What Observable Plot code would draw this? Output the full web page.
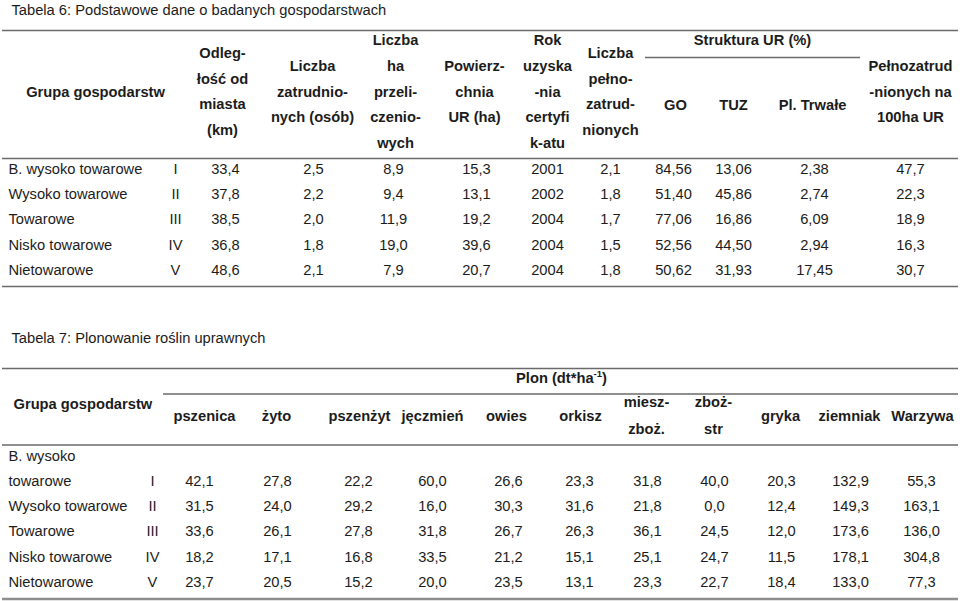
<!DOCTYPE html>
<html><head><meta charset="utf-8">
<script src="https://cdn.jsdelivr.net/npm/d3@7"></script>
<script src="https://cdn.jsdelivr.net/npm/@observablehq/plot@0.6"></script>
<style>body{margin:0;background:#fff} svg{display:block}</style>
</head><body><div id="chart"></div>
<script>
// ================= DATA: Tabela 6 =================
const title6 = "Tabela 6: Podstawowe dane o badanych gospodarstwach";
const groupHeader = "Grupa gospodarstw";
const groups6 = ["B. wysoko towarowe", "Wysoko towarowe", "Towarowe", "Nisko towarowe", "Nietowarowe"];
const groupNumbers = ["I", "II", "III", "IV", "V"];
const headers6 = [
  "Odleg-\nłość od\nmiasta\n(km)",
  "Liczba\nzatrudnio-\nnych (osób)",
  "Liczba\nha\nprzeli-\nczenio-\nwych",
  "Powierz-\nchnia\nUR (ha)",
  "Rok\nuzyska\n-nia\ncertyfi\nk-atu",
  "Liczba\npełno-\nzatrud-\nnionych"
];
const structureHeader = "Struktura UR (%)";
const structureCols = ["GO", "TUZ", "Pl. Trwałe"];
const lastHeader6 = "Pełnozatrud\n-nionych na\n100ha UR";
const distanceKm   = [33.4, 37.8, 38.5, 36.8, 48.6];
const employees    = [2.5, 2.2, 2.0, 1.8, 2.1];
const haConverted  = [8.9, 9.4, 11.9, 19.0, 7.9];
const areaUR       = [15.3, 13.1, 19.2, 39.6, 20.7];
const certYear     = [2001, 2002, 2004, 2004, 2004];
const fullTime     = [2.1, 1.8, 1.7, 1.5, 1.8];
const shareGO      = [84.56, 51.40, 77.06, 52.56, 50.62];
const shareTUZ     = [13.06, 45.86, 16.86, 44.50, 31.93];
const sharePl      = [2.38, 2.74, 6.09, 2.94, 17.45];
const fullTimePer100 = [47.7, 22.3, 18.9, 16.3, 30.7];
const cols6 = [
  [distanceKm, 1], [employees, 1], [haConverted, 1], [areaUR, 1], [certYear, 0],
  [fullTime, 1], [shareGO, 2], [shareTUZ, 2], [sharePl, 2], [fullTimePer100, 1]
];

// ================= DATA: Tabela 7 =================
const title7 = "Tabela 7: Plonowanie roślin uprawnych";
const yieldHeader = "Plon (dt*ha-1)";
const groups7 = ["B. wysoko\ntowarowe", "Wysoko towarowe", "Towarowe", "Nisko towarowe", "Nietowarowe"];
const crops = ["pszenica", "żyto", "pszenżyt", "jęczmień", "owies", "orkisz", "miesz-\nzboż.", "zboż-\nstr", "gryka", "ziemniak", "Warzywa"];
const pszenica = [42.1, 31.5, 33.6, 18.2, 23.7];
const zyto     = [27.8, 24.0, 26.1, 17.1, 20.5];
const pszenzyt = [22.2, 29.2, 27.8, 16.8, 15.2];
const jeczmien = [60.0, 16.0, 31.8, 33.5, 20.0];
const owies    = [26.6, 30.3, 26.7, 21.2, 23.5];
const orkisz   = [23.3, 31.6, 26.3, 15.1, 13.1];
const mieszZboz = [31.8, 21.8, 36.1, 25.1, 23.3];
const zbozStr  = [40.0, 0.0, 24.5, 24.7, 22.7];
const gryka    = [20.3, 12.4, 12.0, 11.5, 18.4];
const ziemniak = [132.9, 149.3, 173.6, 178.1, 133.0];
const warzywa  = [55.3, 163.1, 136.0, 304.8, 77.3];
const cols7 = [pszenica, zyto, pszenzyt, jeczmien, owies, orkisz, mieszZboz, zbozStr, gryka, ziemniak, warzywa];

// ================= LAYOUT (table geometry) =================
const FS = 14.7;
const L6 = {
  titleX: 11, titleB: 14,
  ruleTop: 30, ruleHead: 158, ruleBottom: 286, ruleStruct: 57, structX1: 645, structX2: 860,
  groupX: 8, groupHeadX: 95, groupHeadB: 96.5, headAvgB: 96, lh: 1.74,
  romanX: 175,
  headX: [222, 312, 395, 474, 547, 610],
  structHeadX: [675, 733, 812], structLabelX: 752, structLabelB: 44.5, structColB: 109,
  lastHeadX: 910,
  colX: [225, 313, 393, 476, 547, 610, 673, 733, 814, 910],
  rowB0: 173.5, rowStep: 25.2
};
const L7 = {
  titleX: 11, titleB: 342,
  ruleTop: 368, rulePlon: 393.5, plonX1: 163, ruleHead: 444.5, ruleBottom: 598.5,
  plonX: 561, plonB: 382,
  groupHeadX: 13, groupHeadB: 408.5,
  headX: [204, 276, 359, 432, 506, 580, 646, 713, 780, 849, 922], headB: 420.5, headAvgB: 420, headLh: 1.81,
  groupX: 8, groupLh: 1.70, romanX: 152,
  colX: [199, 277, 358, 432, 508, 579, 647, 714, 781, 850, 921],
  rowB0: 485, rowStep: 25.4
};
const X0 = 2, X1 = 958;

const fmt = (v, d) => v.toFixed(d).replace(".", ",");

// ---- build cells ----
const single = [];   // single-line, bottom anchored: y = baseline
const multi6 = [];   // table 6 header blocks (middle anchored)
const multi7 = [];   // table 7 header blocks (middle anchored)
const group7 = [];   // table 7 group labels (bottom anchored multiline)

single.push({x: L6.titleX, y: L6.titleB, t: title6, a: "start", w: "normal"});
single.push({x: L6.groupHeadX, y: L6.groupHeadB, t: groupHeader, a: "middle", w: "bold"});
headers6.forEach((h, i) => multi6.push({x: L6.headX[i], y: L6.headAvgB - 0.32 * L6.lh * FS, t: h}));
multi6.push({x: L6.lastHeadX, y: L6.headAvgB - 0.32 * L6.lh * FS, t: lastHeader6});
single.push({x: L6.structLabelX, y: L6.structLabelB, t: structureHeader, a: "middle", w: "bold"});
structureCols.forEach((h, i) => single.push({x: L6.structHeadX[i], y: L6.structColB, t: h, a: "middle", w: "bold"}));
groups6.forEach((g, r) => {
  const b = L6.rowB0 + r * L6.rowStep;
  single.push({x: L6.groupX, y: b, t: g, a: "start", w: "normal"});
  single.push({x: L6.romanX, y: b, t: groupNumbers[r], a: "middle", w: "normal"});
  cols6.forEach(([arr, d], c) => single.push({x: L6.colX[c], y: b, t: fmt(arr[r], d), a: "middle", w: "normal"}));
});

single.push({x: L7.titleX, y: L7.titleB, t: title7, a: "start", w: "normal"});
single.push({x: L7.plonX, y: L7.plonB, t: yieldHeader, a: "middle", w: "bold"});
single.push({x: L7.groupHeadX, y: L7.groupHeadB, t: groupHeader, a: "start", w: "bold"});
crops.forEach((h, i) => {
  if (h.includes("\n")) multi7.push({x: L7.headX[i], y: L7.headAvgB - 0.32 * L7.headLh * FS, t: h});
  else single.push({x: L7.headX[i], y: L7.headB, t: h, a: "middle", w: "bold"});
});
groups7.forEach((g, r) => {
  const b = L7.rowB0 + r * L7.rowStep;
  group7.push({x: L7.groupX, y: b, t: g});
  single.push({x: L7.romanX, y: b, t: groupNumbers[r], a: "middle", w: "normal"});
  cols7.forEach((arr, c) => single.push({x: L7.colX[c], y: b, t: fmt(arr[r], 1), a: "middle", w: "normal"}));
});

const rules = [
  {y: L6.ruleTop, x1: X0, x2: X1}, {y: L6.ruleHead, x1: X0, x2: X1}, {y: L6.ruleBottom, x1: X0, x2: X1},
  {y: L6.ruleStruct, x1: L6.structX1, x2: L6.structX2},
  {y: L7.ruleTop, x1: X0, x2: X1}, {y: L7.rulePlon, x1: L7.plonX1, x2: X1}, {y: L7.ruleHead, x1: X0, x2: X1}
];
const thickRules = [{y: L7.ruleBottom, x1: X0, x2: X1}];

const INK = "#1c1c1c";
const textMark = (w, a) => Plot.text(single.filter(d => d.w === w && d.a === a), {
  x: "x", y: "y", text: "t", textAnchor: a, lineAnchor: "bottom", fontSize: FS, fontWeight: w, fill: INK
});
const chart = Plot.plot({
  width: 960, height: 601, margin: 0,
  x: {domain: [0, 960], range: [0, 960], axis: null},
  y: {domain: [0, 601], range: [0, 601], axis: null},
  style: {fontFamily: "'Liberation Sans', Arial, Helvetica, sans-serif", background: "#fff", color: INK},
  marks: [
    Plot.ruleY(rules, {y: "y", x1: "x1", x2: "x2", stroke: "#6a6a6a", strokeWidth: 1.5}),
    Plot.ruleY(thickRules, {y: "y", x1: "x1", x2: "x2", stroke: "#8e8e8e", strokeWidth: 2.5}),
    textMark("normal", "start"),
    textMark("normal", "middle"),
    textMark("bold", "start"),
    textMark("bold", "middle"),
    Plot.text(multi6, {x: "x", y: "y", text: "t", textAnchor: "middle", lineAnchor: "middle", lineHeight: L6.lh, fontSize: FS, fontWeight: "bold", fill: INK}),
    Plot.text(multi7, {x: "x", y: "y", text: "t", textAnchor: "middle", lineAnchor: "middle", lineHeight: L7.headLh, fontSize: FS, fontWeight: "bold", fill: INK}),
    Plot.text(group7, {x: "x", y: "y", text: "t", textAnchor: "start", lineAnchor: "bottom", lineHeight: L7.groupLh, fontSize: FS, fill: INK})
  ]
});
document.getElementById("chart").appendChild(chart);

// superscript "-1" in the yield header
d3.select(chart).selectAll("text").filter(function () { return this.textContent === yieldHeader; }).each(function () {
  const el = d3.select(this);
  el.text("Plon (dt*ha");
  el.append("tspan").attr("font-size", 9.5).attr("dy", -5.5).text("-1");
  el.append("tspan").attr("dy", 5.5).text(")");
});
</script>
</body></html>
